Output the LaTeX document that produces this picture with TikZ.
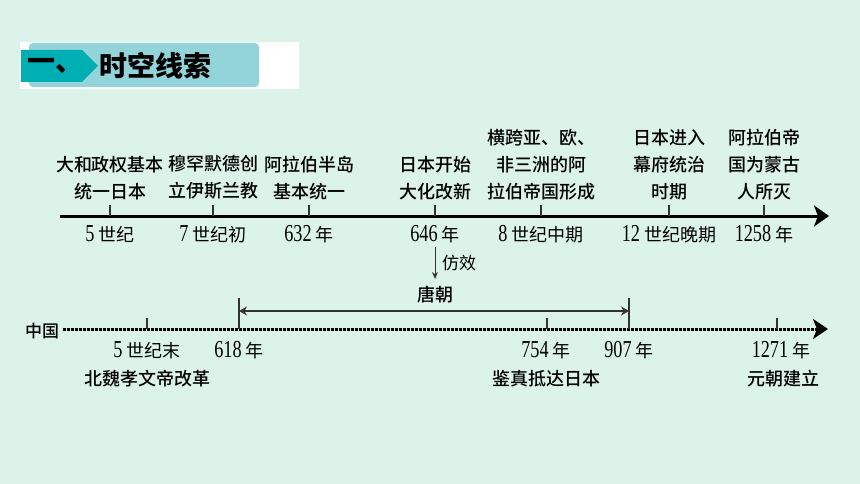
\documentclass[tikz,border=0pt]{standalone}
\usepackage{fontspec}
\setmainfont{Liberation Serif}
\newfontfamily\cjk{Noto Sans CJK SC}
\newfontfamily\cjkm{Noto Sans CJK SC Medium}
\newfontfamily\num[FakeStretch=0.75,Scale=1.35]{Liberation Serif}
\usetikzlibrary{arrows.meta}
\definecolor{sfondo}{HTML}{DCF3EA}
\definecolor{tealchiaro}{HTML}{93D4DA}
\definecolor{tealscuro}{HTML}{00AFB4}

\begin{document}
\begin{tikzpicture}[x=1pt, y=-1pt,
        % Stili generali
        titolo/.style={font=\cjk\bfseries\fontsize{28}{30}\selectfont, anchor=west, inner sep=0pt},
        evento/.style={font=\cjkm\fontsize{18}{27}\selectfont, align=center, anchor=south, inner sep=0pt},
        fatto/.style={font=\cjkm\fontsize{18}{20}\selectfont, inner sep=0pt},
        data/.style={font=\cjk\fontsize{18}{20}\selectfont, inner sep=0pt},
        nota/.style={font=\cjk\fontsize{17}{18}\selectfont, anchor=west, inner sep=0pt},
        tacca/.style={black!80, line width=1.2pt},
        asse/.style={line width=3pt, -{Stealth[length=15pt, width=21pt, inset=4pt]}},
        puntini/.style={line width=3pt, dash pattern=on 2.6pt off 1.4pt, -{Stealth[length=15pt, width=20pt, inset=4pt]}},
        durata/.style={black!80, line width=1.2pt, {Stealth[length=8pt, width=9pt]}-{Stealth[length=8pt, width=9pt]}}
    ]

    % 0. Sfondo e riquadro
    \useasboundingbox (0,0) rectangle (860,484);
    \fill[sfondo] (0,0) rectangle (860,484);

    % 1. Titolo
    \fill[white] (20,42) rectangle (299,89);
    \fill[tealchiaro, rounded corners=4pt] (29,43) rectangle (259,87);
    \fill[tealscuro] (21,50) -- (82,50) -- (98,66) -- (82,82) -- (21,82) -- cycle;
    \node[titolo] (numero) at (27,66) {一、};
    \node[titolo] (titolo) at (99,66) {时空线索};

    % 2. Linea del mondo
    \coordinate (inizio) at (60,216);
    \coordinate (fine) at (829,216);
    \draw[asse] (inizio) -- (fine);

    % Tacche ed eventi
    \coordinate (t1) at (110,216);
    \draw[tacca] (t1) -- ++(0,-11);
    \node[evento] (e1) at (110,200) {大和政权基本\\统一日本};
    \node[data] (d1) at (110,234) {{\num 5} 世纪};

    \coordinate (t2) at (213,216);
    \draw[tacca] (t2) -- ++(0,-11);
    \node[evento] (e2) at (213,200) {穆罕默德创\\立伊斯兰教};
    \node[data] (d2) at (213,234) {{\num 7} 世纪初};

    \coordinate (t3) at (309,216);
    \draw[tacca] (t3) -- ++(0,-11);
    \node[evento] (e3) at (309,200) {阿拉伯半岛\\基本统一};
    \node[data] (d3) at (309,234) {{\num 632} 年};

    \coordinate (t4) at (435,216);
    \draw[tacca] (t4) -- ++(0,-11);
    \node[evento] (e4) at (435,200) {日本开始\\大化改新};
    \node[data] (d4) at (435,234) {{\num 646} 年};

    \coordinate (t5) at (541,216);
    \draw[tacca] (t5) -- ++(0,-11);
    \node[evento] (e5) at (541,200) {横跨亚、欧、\\非三洲的阿\\拉伯帝国形成};
    \node[data] (d5) at (541,234) {{\num 8} 世纪中期};

    \coordinate (t6) at (669,216);
    \draw[tacca] (t6) -- ++(0,-11);
    \node[evento] (e6) at (669,200) {日本进入\\幕府统治\\时期};
    \node[data] (d6) at (669,234) {{\num 12} 世纪晚期};

    \coordinate (t7) at (764,216);
    \draw[tacca] (t7) -- ++(0,-11);
    \node[evento] (e7) at (764,200) {阿拉伯帝\\国为蒙古\\人所灭};
    \node[data] (d7) at (764,234) {{\num 1258} 年};

    % 3. Influenza (freccia verso il basso)
    \coordinate (fxA) at (435,247);
    \coordinate (fxB) at (435,279);
    \draw[black!80, line width=1pt, -{Stealth[length=7pt, width=6pt]}] (fxA) -- (fxB);
    \node[nota] (fangxiao) at (442,263) {仿效};

    % 4. Linea della Cina (punteggiata)
    \node[font=\cjkm\fontsize{17}{20}\selectfont, inner sep=0pt] (cina) at (42,331) {中国};
    \coordinate (cinaI) at (63,329);
    \coordinate (cinaF) at (828,329);
    \draw[puntini] (cinaI) -- (cinaF);

    % Dinastia Tang
    \coordinate (tangS) at (239,311);
    \coordinate (tangE) at (629,311);
    \draw[tacca] (239,298) -- (239,329);
    \draw[tacca] (629,298) -- (629,329);
    \draw[durata] (tangS) -- (tangE);
    \node[fatto] (tang) at (435,295) {唐朝};

    % Tacche della Cina
    \coordinate (c1) at (147,329);
    \draw[tacca] (c1) -- ++(0,-11);
    \node[data] (cd1) at (147,350) {{\num 5} 世纪末};
    \node[fatto] (ce1) at (147,379) {北魏孝文帝改革};

    \node[data] (cd2) at (239,350) {{\num 618} 年};

    \coordinate (c3) at (547,329);
    \draw[tacca] (c3) -- ++(0,-11);
    \node[data] (cd3) at (546,350) {{\num 754} 年};
    \node[fatto] (ce3) at (546,379) {鉴真抵达日本};

    \node[data] (cd4) at (629,350) {{\num 907} 年};

    \coordinate (c5) at (777,329);
    \draw[tacca] (c5) -- ++(0,-11);
    \node[data] (cd5) at (781,350) {{\num 1271} 年};
    \node[fatto] (ce5) at (783,379) {元朝建立};

\end{tikzpicture}
\end{document}
